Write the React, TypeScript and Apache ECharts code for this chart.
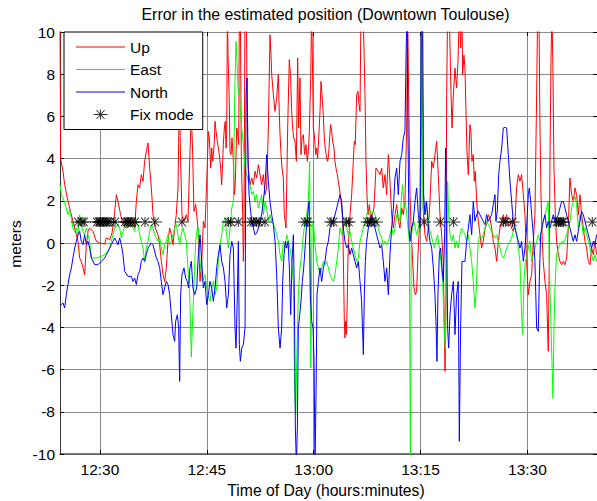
import React, { useEffect, useRef } from "react";
import * as echarts from "echarts";

// ---- Axis definitions (minutes after 12:00) ----
const xMin = 24.4;
const xMax = 99.76;
const xTickValues = [30, 45, 60, 75, 90];
const yMin = -10;
const yMax = 10;
const yInterval = 2;

const titleText = "Error in the estimated position (Downtown Toulouse)";
const xAxisName = "Time of Day (hours:minutes)";
const yAxisName = "meters";
const seriesNames = ["Up", "East", "North", "Fix mode"];

// ---- Series values: [minutes after 12:00, meters] ----
const upData: [number, number][] = [
  [24.4, 10.5], [24.49, 4.0], [24.82, 3.4], [25.06, 2.76], [25.43, 2.13], [25.76, 1.66], [25.99, 1.34], [26.22, 1.03],
  [26.46, 0.71], [26.69, 0.39], [26.93, 0.08], [27.16, -0.71], [27.39, -0.87], [27.63, -1.18], [27.86, -1.5], [28.1, -0.08],
  [28.33, 0.55], [28.56, 0.71], [29.03, 0.55], [29.5, 0.08], [29.97, 0], [30.67, -0.05], [30.9, 0.24], [31.37, 0.16],
  [31.7, 0.47], [31.98, 1.18], [32.31, 2.29], [32.54, 1.97], [32.91, 1.34], [33.24, 0.87], [33.71, 0.71], [34.18, 0.79],
  [34.64, 0.87], [34.88, 0.71], [35.11, 1.97], [35.35, 2.76], [35.58, 2.61], [35.81, 3.24], [36.05, 2.92], [36.28, 3.87],
  [36.51, 4.34], [36.75, 4.74], [36.98, 3.55], [37.22, 2.61], [37.45, 1.34], [37.78, 0.71], [38.15, 0.39], [38.39, -0.08],
  [38.62, -0.87], [38.85, -1.5], [39.09, -1.82], [39.32, -1.18], [39.55, 0.08], [39.79, 0.71], [40.02, 0.39], [40.26, -0.08],
  [40.49, 0.71], [40.72, 1.34], [40.96, 2.61], [41.15, 7.0], [41.33, 3.87], [41.52, 1.34], [41.8, 1.03], [42.13, 1.34],
  [42.36, 1.03], [42.6, 3.87], [42.83, 6.24], [43.02, 4.19], [43.2, 1.5], [43.44, 1.82], [43.67, 1.03], [43.82, 0.39],
  [44.05, -1.82], [44.29, -0.87], [44.52, 1.03], [44.75, 0.71], [44.99, 2.92], [45.22, 5.29], [45.36, 4.98], [45.55, 3.55],
  [45.69, 4.5], [45.83, 3.87], [45.92, 4.19], [46.06, 4.82], [46.15, 5.77], [46.3, 5.29], [46.48, 4.82], [46.62, 4.5],
  [46.76, 4.19], [46.95, 3.55], [47.09, 2.76], [47.23, 3.87], [47.32, 4.66], [47.46, 5.45], [47.6, 5.77], [47.7, 4.5],
  [47.79, 5.13], [47.89, 11], [47.98, 8.93], [48.07, 7.82], [48.17, 6.4], [48.26, 4.34], [48.4, 4.19], [48.54, 4.98],
  [48.73, 3.87], [48.87, 2.29], [49.01, 2.92], [49.2, 5.45], [49.34, 5.13], [49.48, 4.66], [49.57, 11], [49.71, 11],
  [49.85, 3.87], [50.04, 1.34], [50.13, -0.87], [50.22, 0.39], [50.36, 11], [50.55, 11], [50.69, 5.45], [50.83, 3.55],
  [51.07, 2.76], [51.3, 3.08], [51.53, 2.76], [51.77, 3.4], [52.0, 3.08], [52.24, 3.71], [52.47, 3.24], [52.7, 2.76],
  [52.94, 3.24], [53.17, 2.29], [53.4, 2.61], [53.64, 5.45], [53.87, 9.87], [54.01, 8.93], [54.11, 7.98], [54.34, 7.03],
  [54.57, 6.24], [54.81, 6.87], [55.04, 7.98], [55.18, 6.08], [55.28, 5.13], [55.42, 4.19], [55.56, 3.55], [55.74, 3.08],
  [55.88, 1.34], [56.12, 0.71], [56.35, 5.45], [56.58, 8.69], [56.77, 7.82], [56.91, 6.24], [57.05, 5.45], [57.19, 4.98],
  [57.38, 4.82], [57.57, 3.87], [57.75, 8.77], [57.89, 5.45], [58.08, 7.82], [58.22, 4.19], [58.36, 4.98], [58.55, 5.13],
  [58.73, 4.19], [58.92, 4.66], [59.11, 3.87], [59.25, 4.34], [59.39, 5.29], [59.58, 7.82], [59.72, 11], [59.86, 7.82],
  [59.95, 5.45], [60.09, 5.13], [60.28, 4.19], [60.42, 4.5], [60.56, 4.03], [60.7, 4.98], [60.89, 6.24], [61.03, 7.66],
  [61.17, 7.03], [61.35, 6.08], [61.49, 4.98], [61.63, 4.5], [61.82, 4.03], [61.96, 3.87], [62.1, 4.19], [62.24, 4.98],
  [62.38, 5.61], [62.52, 5.29], [62.66, 4.82], [62.85, 4.5], [62.99, 3.87], [63.13, 3.55], [63.32, 3.24], [63.46, 2.92],
  [63.6, 2.61], [63.79, 2.13], [63.93, 1.66], [64.07, 1.18], [64.2, -1.5], [64.3, -3.71], [64.39, -4.5], [64.48, -3.71],
  [64.58, -4.34], [64.68, -3.24], [64.8, -0.87], [64.95, 0.4], [65.1, 1.34], [65.33, 2.29], [65.56, 3.87], [65.7, 4.82],
  [65.84, 4.66], [66.03, 7.03], [66.22, 7.19], [66.36, 6.56], [66.5, 6.24], [66.64, 11], [66.92, 11], [67.06, 9.24],
  [67.2, 7.03], [67.34, 3.87], [67.48, 2.29], [67.62, 1.34], [67.81, 1.82], [68.0, 1.03], [68.23, 1.34], [68.46, 1.66],
  [68.74, 3.55], [69.03, 3.4], [69.31, 3.24], [69.54, 3.55], [69.77, 2.61], [70.01, 3.24], [70.24, 2.29], [70.48, 4.19],
  [70.71, 2.92], [70.94, 1.34], [71.18, 0.71], [71.41, 1.34], [71.65, 1.82], [71.88, 1.03], [72.11, 0.71], [72.35, 1.66],
  [72.58, 1.34], [72.81, 1.97], [73.05, 5.45], [73.19, 11], [73.33, 7.03], [73.52, 2.29], [73.7, 0.39], [73.89, -0.87],
  [74.08, -2.13], [74.26, -2.45], [74.45, -2.29], [74.64, -0.55], [74.83, 0.71], [75.01, 1.34], [75.2, 11], [75.39, 1.5],
  [75.62, 0.39], [75.85, 0.08], [76.09, 0.71], [76.32, 1.97], [76.56, 3.87], [76.79, 3.55], [77.02, 4.19], [77.26, 4.82],
  [77.49, 3.24], [77.72, 1.34], [77.96, 0.39], [78.19, -0.87], [78.43, -6.08], [78.57, -2.45], [78.66, 7.03], [78.8, 11],
  [79.03, 11], [79.22, 7.82], [79.41, 5.45], [79.6, 7.03], [79.83, 8.29], [80.06, 7.35], [80.25, 8.6], [80.44, 11],
  [80.62, 9.24], [80.81, 11], [80.9, 7.98], [81.09, 8.9], [81.23, 8.29], [81.37, 6.24], [81.51, 4.34], [81.7, 3.24],
  [81.93, 5.61], [82.07, 5.29], [82.21, 3.87], [82.4, 4.19], [82.54, 2.92], [82.68, 3.4], [82.87, 1.97], [83.1, 1.03],
  [83.34, 0.39], [83.57, -0.24], [83.8, 0.08], [84.04, 0.71], [84.27, 0.87], [84.51, 1.34], [84.74, 1.18], [84.97, 0.71],
  [85.21, 0.08], [85.44, -0.24], [85.68, -0.87], [85.91, 0.08], [86.14, 0.71], [86.38, 1.03], [86.61, 1.34], [86.84, 1.03],
  [87.08, 1.34], [87.31, 0.87], [87.55, 1.03], [87.78, 0.71], [88.01, 0.55], [88.25, 1.03], [88.48, 2.61], [88.72, 3.24],
  [88.95, 2.92], [89.18, 3.24], [89.42, 2.29], [89.65, 1.34], [89.88, -0.87], [90.12, -2.45], [90.35, -1.82], [90.59, -1.5],
  [90.82, 0.08], [91.05, 1.34], [91.29, 7.03], [91.43, 11], [91.61, 11], [91.76, 5.45], [91.9, 2.29], [92.08, 0.08],
  [92.22, -0.87], [92.46, -1.82], [92.69, -2.45], [92.92, -5.13], [93.06, -0.87], [93.16, 3.87], [93.3, 8.6], [93.44, 11],
  [93.58, 8.13], [93.72, 3.55], [93.91, 1.34], [94.09, 0.08], [94.33, -0.55], [94.56, -0.87], [94.8, -1.03], [95.03, -0.87],
  [95.26, -1.03], [95.5, -0.71], [95.73, 0.71], [95.96, 3.08], [96.2, 2.29], [96.43, 1.97], [96.67, 2.61], [96.9, 2.29],
  [97.13, 1.34], [97.37, 2.29], [97.6, 1.34], [97.84, 0.71], [98.07, 0.08], [98.3, -0.24], [98.54, -0.87], [98.77, -1.03],
  [99.0, -0.24], [99.24, -0.55], [99.47, 0.08], [99.71, -0.55],
];

const eastData: [number, number][] = [
  [24.4, 2.76], [24.59, 2.29], [24.82, 2.13], [25.06, 1.89], [25.29, 1.66], [25.52, 1.34], [25.76, 1.58], [25.99, 1.18],
  [26.22, 0.71], [26.46, 0.55], [26.69, 0.71], [26.93, 0.39], [27.16, 1.34], [27.39, 0.87], [27.63, 0.55], [27.86, 0.39],
  [28.1, 0.71], [28.33, 0.39], [28.56, 0.08], [28.8, -0.71], [29.5, -0.71], [30.2, -0.63], [30.67, -0.55], [31.14, -0.39],
  [31.37, -0.24], [31.6, 0.08], [31.84, 0.39], [32.07, 0.71], [32.54, 0.87], [32.77, 0.71], [33.01, 0.24], [33.24, 0.55],
  [33.47, 0.79], [33.94, 0.9], [34.41, 0.87], [34.88, 0.55], [35.11, 1.03], [35.35, 0.87], [35.58, 0.39], [35.81, 0.08],
  [36.05, -0.24], [36.28, -0.87], [36.51, -0.24], [36.75, 0.08], [36.98, 0.55], [37.22, 0.87], [37.45, 0.71], [37.68, 0.39],
  [37.92, 0.24], [38.15, 0.08], [38.39, 0.24], [38.62, -0.24], [38.85, -0.55], [39.09, -0.08], [39.32, 0.08], [39.55, 0.39],
  [39.79, -0.08], [40.02, 0.08], [40.26, 0.39], [40.49, 0.71], [40.72, 0.87], [40.96, 0.39], [41.19, -0.08], [41.42, 0.39],
  [41.66, 0.71], [41.89, 0.39], [42.13, 0.08], [42.36, -1.18], [42.6, -2.45], [42.83, -5.4], [42.97, -4.03], [43.2, -2.0],
  [43.44, 0.08], [43.67, 0.71], [43.82, 0.71], [44.05, -0.87], [44.38, -1.82], [44.75, -1.5], [45.13, -2.45], [45.45, -2.76],
  [45.69, -2.13], [45.92, -1.82], [46.16, -2.45], [46.39, -2.13], [46.62, -0.87], [46.86, -0.08], [47.09, 0.39], [47.33, 1.03],
  [47.56, 1.18], [47.79, 0.39], [48.03, -0.24], [48.26, 0.71], [48.5, 1.66], [48.73, 1.97], [48.92, 7.03], [49.1, 9.56],
  [49.24, 8.6], [49.43, 7.03], [49.57, 7.35], [49.71, 6.24], [49.9, 5.45], [50.13, 4.66], [50.37, 3.55], [50.6, 3.24],
  [50.83, 2.92], [51.07, 2.76], [51.3, 2.29], [51.54, 2.45], [51.77, 1.97], [52.0, 2.29], [52.24, 1.66], [52.47, 1.97],
  [52.7, 2.29], [52.94, 1.34], [53.17, 1.97], [53.41, 1.66], [53.64, 1.03], [53.87, 1.34], [54.11, 1.03], [54.34, 0.87],
  [54.58, 0.71], [54.81, 0.39], [55.04, 0.08], [55.28, -0.55], [55.51, -0.87], [55.74, 0.08], [55.98, -0.24], [56.21, 0.39],
  [56.45, 0.08], [56.68, -0.24], [56.91, -0.87], [57.15, -1.82], [57.33, -6.87], [57.48, -8.13], [57.62, -5.61], [57.85, -2.45],
  [58.08, -1.18], [58.32, -0.55], [58.55, 0.39], [58.79, 1.03], [59.02, 1.34], [59.25, 1.97], [59.44, 3.87], [59.58, -5.92],
  [59.77, 0.71], [59.95, 1.03], [60.19, -0.08], [60.42, -0.87], [60.66, -1.18], [60.89, -1.5], [61.12, -1.18], [61.36, -0.87],
  [61.59, -1.03], [61.82, -0.87], [62.06, -1.18], [62.29, -1.5], [62.52, -1.66], [62.76, -1.82], [62.99, -1.5], [63.23, -0.87],
  [63.46, -0.24], [63.69, 0.71], [63.93, 0.39], [64.16, 0.71], [64.39, 1.03], [64.63, 0.71], [64.86, 0.39], [65.1, 0.55],
  [65.33, 0.08], [65.56, -0.24], [65.8, -0.55], [66.03, -0.87], [66.27, -0.71], [66.5, 0.08], [66.73, 0.39], [66.97, 0.71],
  [67.2, 1.03], [67.43, 1.34], [67.67, 1.5], [67.9, 1.58], [68.14, 1.34], [68.37, 1.5], [68.6, 1.34], [68.84, 1.03],
  [69.07, 0.71], [69.31, 0.39], [69.54, 0.24], [69.77, -0.08], [70.01, 0.08], [70.24, -0.08], [70.48, 0.08], [70.71, 0.39],
  [70.94, 0.71], [71.18, 0.39], [71.41, 0.71], [71.65, 1.34], [71.88, 1.34], [72.11, 1.03], [72.35, 2.29], [72.49, 2.76],
  [72.68, 1.66], [72.86, 1.97], [73.05, 1.34], [73.24, 0.71], [73.43, 0.08], [73.57, -10.5], [73.7, 0.39], [73.89, 0.71],
  [74.08, 1.03], [74.26, 0.71], [74.45, 0.39], [74.69, 0.71], [74.92, 1.34], [75.15, 11], [75.34, 1.66], [75.53, 1.34],
  [75.76, 1.97], [76.0, 1.34], [76.23, 0.71], [76.46, 0.39], [76.7, 0.08], [76.93, -0.24], [77.16, 0.08], [77.4, 0.39],
  [77.63, -0.24], [77.87, -0.87], [78.1, -1.82], [78.33, -4.03], [78.47, -4.98], [78.66, -0.87], [78.8, 2.92], [78.94, 1.34],
  [79.13, 0.39], [79.36, 0.08], [79.6, 0.39], [79.83, -0.24], [80.06, 0.08], [80.29, -0.24], [80.53, 0.39], [80.76, 0.71],
  [80.99, 0.55], [81.23, 0.39], [81.47, 0.08], [81.7, 0.39], [81.93, -0.24], [82.17, -0.87], [82.4, -1.82], [82.63, -3.08],
  [82.78, -2.45], [82.96, -0.87], [83.1, 0.08], [83.34, 0.39], [83.57, 0.24], [83.8, 0.39], [84.04, 0.71], [84.27, 1.03],
  [84.51, 0.87], [84.74, 0.71], [84.97, 0.55], [85.21, 0.39], [85.44, 0.24], [85.68, 0.39], [85.91, 0.08], [86.14, -0.24],
  [86.38, -0.55], [86.61, -0.71], [86.84, -0.55], [87.08, -0.24], [87.31, -0.08], [87.55, 0.08], [87.78, 0.24], [88.01, 0.55],
  [88.25, 0.71], [88.48, 0.39], [88.72, -0.24], [88.95, -0.87], [89.18, -3.4], [89.32, -4.34], [89.51, -1.82], [89.7, -0.87],
  [89.88, -0.71], [90.12, -0.24], [90.35, 0.08], [90.59, -0.87], [90.82, -0.55], [91.05, -0.24], [91.29, 0.08], [91.52, 0.39],
  [91.76, 0.08], [91.99, 0.71], [92.22, 1.03], [92.46, 1.34], [92.69, 1.66], [92.92, 1.97], [93.06, -0.87], [93.25, -3.4],
  [93.44, -5.61], [93.58, -7.35], [93.72, -4.03], [93.86, -2.13], [94.09, -0.55], [94.33, -0.24], [94.56, -0.08], [94.8, 0.08],
  [95.03, 0.0], [95.26, 0.16], [95.5, 0.39], [95.73, 0.71], [95.96, 1.03], [96.2, 1.66], [96.43, 1.97], [96.67, 2.21],
  [96.9, 1.82], [97.13, 0.71], [97.37, 1.34], [97.6, 1.03], [97.84, 0.39], [98.07, 0.71], [98.3, 0.39], [98.54, 0.08],
  [98.77, -0.24], [99.0, -0.55], [99.24, -0.87], [99.47, -0.55], [99.71, -0.87],
];

const northData: [number, number][] = [
  [24.4, -2.92], [24.59, -2.92], [24.82, -2.84], [25.06, -3.08], [25.29, -2.45], [25.52, -1.97], [25.76, -1.5], [25.99, -1.18],
  [26.22, -0.71], [26.46, -0.24], [26.69, 0.08], [26.93, 0.39], [27.16, 0.55], [27.39, 0.08], [27.63, -0.08], [27.86, 0.39],
  [28.1, -0.08], [28.33, 0.08], [28.56, -0.24], [28.8, -0.71], [29.27, -1.03], [29.73, -1.03], [30.2, -0.87], [30.67, -0.71],
  [31.14, -0.39], [31.6, -0.08], [32.07, 0.24], [32.31, 0.08], [32.54, -0.08], [32.77, 0.24], [33.01, -0.08], [33.24, -0.55],
  [33.47, -1.34], [33.94, -1.58], [34.41, -1.58], [34.64, -1.82], [34.88, -1.66], [35.11, -1.97], [35.35, -1.5], [35.58, -1.34],
  [35.81, -0.87], [36.05, -0.71], [36.28, -0.87], [36.51, -0.55], [36.75, -0.24], [37.22, 0], [37.45, -0.08], [37.68, -0.39],
  [37.92, -0.71], [38.15, -0.87], [38.39, -1.18], [38.62, -1.82], [38.85, -2.45], [39.09, -2.13], [39.32, -1.82], [39.55, -1.97],
  [39.79, -2.45], [40.02, -3.4], [40.26, -4.34], [40.49, -4.66], [40.63, -3.71], [40.87, -3.4], [41.05, -4.03], [41.19, -6.56],
  [41.33, -2.45], [41.52, -1.5], [41.8, -1.18], [42.03, -1.66], [42.27, -1.82], [42.45, -2.13], [42.64, -1.18], [42.83, -0.87],
  [43.06, -2.13], [43.3, -2.45], [43.58, -2.13], [43.82, -0.55], [44.05, 0.39], [44.29, -0.87], [44.52, -2.13], [44.75, -1.82],
  [44.99, -2.92], [45.22, -2.45], [45.45, -1.82], [45.69, -2.13], [45.92, -2.76], [46.16, -2.13], [46.39, -1.18], [46.62, -0.55],
  [46.86, -0.08], [47.09, -0.87], [47.33, -1.18], [47.56, -1.82], [47.79, -3.08], [48.03, -2.45], [48.26, -0.55], [48.5, 0.08],
  [48.73, -0.24], [48.96, -4.03], [49.1, -4.98], [49.29, -2.45], [49.43, 0.08], [49.57, -4.82], [49.71, -5.61], [49.9, -4.98],
  [50.13, -4.82], [50.37, -4.03], [50.51, 7.03], [50.65, 7.82], [50.79, 3.87], [50.93, 2.29], [51.11, 1.66], [51.3, 1.03],
  [51.54, 0.71], [51.77, 0.39], [52.0, 0.47], [52.24, 0.71], [52.47, 1.03], [52.7, 1.34], [52.94, 1.97], [53.17, 2.76],
  [53.41, 4.19], [53.64, 2.92], [53.87, 1.97], [54.11, 1.34], [54.34, 0.87], [54.58, 0.08], [54.81, -1.5], [55.04, -4.03],
  [55.28, -4.98], [55.51, -4.03], [55.65, -1.82], [55.84, -0.55], [56.02, 0.08], [56.21, -0.24], [56.4, 0.08], [56.59, -1.18],
  [56.77, -3.4], [56.96, -0.87], [57.15, 0.39], [57.29, -2.45], [57.43, -8.77], [57.57, -10.5], [57.71, -8.77], [57.85, -4.03],
  [58.04, -3.4], [58.22, -2.76], [58.41, -1.82], [58.6, -1.18], [58.79, -0.24], [58.97, 0.71], [59.16, 1.34], [59.35, 1.97],
  [59.53, -2.45], [59.72, -3.71], [59.91, -4.03], [60.05, -5.61], [60.19, -10.5], [60.33, -7.19], [60.47, -2.45], [60.66, -1.82],
  [60.89, -1.18], [61.12, -1.82], [61.36, -1.18], [61.59, -0.87], [61.82, -0.24], [62.06, 0.08], [62.29, 0.71], [62.76, 1.03],
  [63.23, 1.66], [63.69, 2.29], [63.93, 1.97], [64.16, 0.71], [64.39, 0.08], [64.63, -0.24], [64.86, -0.08], [65.1, -0.55],
  [65.33, -0.24], [65.56, -0.55], [65.8, -0.87], [66.03, -1.18], [66.27, -0.87], [66.5, -1.82], [66.73, -2.76], [66.97, -5.29],
  [67.11, -2.45], [67.25, -0.87], [67.43, 0.08], [67.67, 0.71], [67.9, 1.03], [68.14, 1.34], [68.37, 1.03], [68.6, 0.71],
  [68.84, 0.39], [69.07, 0.08], [69.31, -0.24], [69.54, -0.08], [69.77, -0.87], [70.01, -1.82], [70.24, -1.18], [70.48, -2.45],
  [70.71, -0.55], [70.94, 0.71], [71.18, 1.66], [71.41, 3.08], [71.65, 3.55], [71.88, 2.29], [72.11, 3.87], [72.35, 4.19],
  [72.58, 4.98], [72.81, 5.29], [72.95, 8.6], [73.09, 11], [73.23, 5.45], [73.37, 0.71], [73.52, 0.08], [73.75, 0.71],
  [73.98, 1.03], [74.22, 1.97], [74.45, 2.61], [74.69, 1.34], [74.92, 0.71], [75.11, 11], [75.29, 11], [75.43, 2.29],
  [75.62, 1.34], [75.85, 1.97], [76.09, 0.71], [76.32, 0.08], [76.56, -0.24], [76.79, -1.18], [77.02, -2.45], [77.16, -3.71],
  [77.3, -5.61], [77.44, -2.45], [77.63, -0.55], [77.82, -0.24], [78.0, -1.18], [78.19, -1.82], [78.38, 0.39], [78.52, 4.5],
  [78.66, 0.71], [78.8, -4.03], [78.94, -4.98], [79.13, -3.4], [79.36, -2.45], [79.6, -1.82], [79.83, -4.34], [80.06, -2.45],
  [80.29, -1.82], [80.44, -9.4], [80.62, -4.03], [80.81, -0.87], [81.23, -0.87], [81.47, 0.08], [81.7, 0.71], [81.93, 1.34],
  [82.17, 0.39], [82.4, 1.97], [82.63, 1.03], [82.87, 1.34], [83.1, 1.5], [83.34, 1.34], [83.57, 1.18], [83.8, 1.03],
  [84.04, 0.87], [84.27, 1.34], [84.51, 1.03], [84.74, 1.18], [84.97, 1.34], [85.21, 1.82], [85.44, 2.29], [85.58, 1.03],
  [85.77, 1.5], [85.96, 3.24], [86.14, 3.87], [86.38, 4.5], [86.61, 5.45], [86.84, 5.48], [87.08, 5.45], [87.31, 4.19],
  [87.55, 2.92], [87.78, 1.97], [88.01, 1.03], [88.25, 0.71], [88.48, 0.39], [88.72, 0.08], [88.95, -0.24], [89.18, 0.08],
  [89.42, -0.87], [89.65, -0.24], [89.88, 0.71], [90.12, 2.29], [90.26, 2.61], [90.45, 1.97], [90.59, 1.34], [90.82, 0.39],
  [91.05, -0.87], [91.29, -4.03], [91.52, -4.19], [91.66, -1.82], [91.85, 0.39], [92.04, 0.71], [92.22, 1.03], [92.46, 1.34],
  [92.69, 0.71], [92.92, 1.03], [93.16, 0.71], [93.39, 1.03], [93.63, 1.34], [93.86, 1.03], [94.09, 1.18], [94.33, 1.34],
  [94.56, 1.66], [94.8, 1.97], [95.03, 1.97], [95.26, 1.66], [95.5, 1.34], [95.73, 1.03], [95.96, 0.71], [96.2, 0.39],
  [96.43, 0.08], [96.67, 0.39], [96.9, 0.08], [97.13, 0.55], [97.37, 1.03], [97.6, 1.5], [97.84, 1.34], [98.07, 1.03],
  [98.3, 0.71], [98.54, 0.39], [98.77, 0.08], [99.0, -0.24], [99.24, 0.08], [99.47, -0.08], [99.71, 0.39],
];

const fixModeTimes = [
  26.93, 27.49, 27.77, 29.59, 29.87, 30.01, 30.15, 30.43, 30.57, 30.86, 31.14, 31.42, 32.12, 33.52, 33.8, 33.94,
  34.22, 34.5, 34.92, 36.33, 37.73, 41.52, 48.03, 48.35, 49.43, 51.21, 51.54, 52.0, 52.33, 53.17, 58.79, 59.16,
  62.43, 62.76, 64.63, 64.91, 67.55, 67.9, 68.14, 68.74, 75.5, 77.75, 79.62, 86.63, 86.9, 87.9, 94.1, 94.35,
  94.6, 94.85, 95.05, 99.1,
];
const fixModeLevel = 1;

const FONT = "'Liberation Sans', Arial, Helvetica, sans-serif";
const STAR_SYMBOL =
  "path://M0,4.5H14V5.5H0Z M6.5,0H7.5V10H6.5Z M2.6,1L3.4,0.4L11.4,9L10.6,9.6Z M10.6,0.4L11.4,1L3.4,9.6L2.6,9Z";
const STAR_LEGEND_ICON =
  "path://M0,0h0.01v0.01h-0.01z M48.99,13.99h0.01v0.01h-0.01z M17.5,6.5H31.5V7.5H17.5Z M24,2H25V12H24Z M20.1,3L20.9,2.4L28.9,11L28.1,11.6Z M28.1,2.4L28.9,3L20.9,11.6L20.1,11Z";
const LINE_LEGEND_ICON = "path://M0,6.5H49V7.5H0Z";

function fmtTime(v: number): string {
  const h = 12 + Math.floor(v / 60);
  const m = Math.round(v % 60);
  return `${h}:${m < 10 ? "0" + m : m}`;
}

export default function App() {
  const ref = useRef<HTMLDivElement>(null);
  useEffect(() => {
    if (!ref.current) return;
    const chart = echarts.init(ref.current, undefined, { renderer: "svg" });
    const gridColor = "#8a8a8a";
    const option: any = {
      animation: false,
      backgroundColor: "#ffffff",
      textStyle: { fontFamily: FONT },
      grid: { left: 60, top: 32, width: 537, height: 422, containLabel: false },
      legend: {
        orient: "vertical",
        left: 64,
        top: 32,
        padding: [7, 9, 7, 12],
        itemGap: 6.5,
        itemWidth: 49,
        itemHeight: 14,
        backgroundColor: "#ffffff",
        borderColor: "#000000",
        borderWidth: 1,
        borderRadius: 0,
        selectedMode: false,
        itemStyle: { borderWidth: 0 },
        textStyle: { fontSize: 15.5, color: "#000", fontFamily: FONT },
        data: [
          { name: seriesNames[0], icon: LINE_LEGEND_ICON },
          { name: seriesNames[1], icon: LINE_LEGEND_ICON },
          { name: seriesNames[2], icon: LINE_LEGEND_ICON },
          { name: seriesNames[3], icon: STAR_LEGEND_ICON },
        ],
        z: 10,
      },
      xAxis: [
        {
          type: "value",
          min: xMin,
          max: xMax,
          position: "bottom",
          axisLine: { show: true, onZero: false, lineStyle: { color: "#555", width: 1.5 } },
          axisTick: { show: true, inside: true, length: 4, customValues: xTickValues, lineStyle: { color: "#000" } },
          axisLabel: {
            customValues: xTickValues,
            formatter: (v: number) => fmtTime(v),
            margin: 7,
            fontSize: 15.5,
            color: "#000",
            fontFamily: FONT,
          },
          splitLine: { show: true, lineStyle: { color: gridColor, width: 1 } },
        },
        {
          type: "value",
          min: xMin,
          max: xMax,
          position: "top",
          axisLine: { show: false, onZero: false },
          axisTick: { show: true, inside: true, length: 4, customValues: xTickValues, lineStyle: { color: "#000" } },
          axisLabel: { show: false },
          splitLine: { show: false },
        },
      ],
      yAxis: [
        {
          type: "value",
          min: yMin,
          max: yMax,
          interval: yInterval,
          axisLine: { show: true, onZero: false, lineStyle: { color: "#333", width: 1 } },
          axisTick: { show: true, inside: true, length: 4, lineStyle: { color: "#000" } },
          axisLabel: { margin: 5, fontSize: 15.5, color: "#000", fontFamily: FONT },
          splitLine: { show: true, lineStyle: { color: gridColor, width: 1 } },
        },
        {
          type: "value",
          min: yMin,
          max: yMax,
          interval: yInterval,
          position: "right",
          axisLine: { show: false, onZero: false },
          axisTick: { show: true, inside: true, length: 4, lineStyle: { color: "#000" } },
          axisLabel: { show: false },
          splitLine: { show: false },
        },
      ],
      series: [
        {
          name: seriesNames[0],
          type: "line",
          data: upData,
          showSymbol: false,
          symbol: "none",
          color: "#ff0000",
          lineStyle: { color: "#ff0000", width: 1 },
          silent: true,
          clip: true,
        },
        {
          name: seriesNames[1],
          type: "line",
          data: eastData,
          showSymbol: false,
          symbol: "none",
          color: "#00ff00",
          lineStyle: { color: "#00ff00", width: 1 },
          silent: true,
          clip: true,
        },
        {
          name: seriesNames[2],
          type: "line",
          data: northData,
          showSymbol: false,
          symbol: "none",
          color: "#0000ff",
          lineStyle: { color: "#0000ff", width: 1 },
          silent: true,
          clip: true,
        },
        {
          name: seriesNames[3],
          type: "scatter",
          data: fixModeTimes.map((t) => [t, fixModeLevel]),
          symbol: STAR_SYMBOL,
          symbolSize: [14, 10],
          color: "#000000",
          itemStyle: { color: "#000000" },
          silent: true,
          z: 5,
        },
      ],
      graphic: [
        {
          type: "text",
          x: 325.5,
          y: 14.8,
          z: 20,
          style: {
            text: titleText,
            fontSize: 15.9,
            fontFamily: FONT,
            fill: "#000",
            align: "center",
            verticalAlign: "middle",
            textAlign: "center",
            textVerticalAlign: "middle",
          },
        },
        {
          type: "text",
          x: 326,
          y: 490,
          z: 20,
          style: {
            text: xAxisName,
            fontSize: 15.7,
            fontFamily: FONT,
            fill: "#000",
            align: "center",
            verticalAlign: "middle",
            textAlign: "center",
            textVerticalAlign: "middle",
          },
        },
        {
          type: "text",
          x: 15.5,
          y: 244,
          rotation: Math.PI / 2,
          z: 20,
          style: {
            text: yAxisName,
            fontSize: 15.5,
            fontFamily: FONT,
            fill: "#000",
            align: "center",
            verticalAlign: "middle",
            textAlign: "center",
            textVerticalAlign: "middle",
          },
        },
      ],
    };
    chart.setOption(option);
    return () => {
      chart.dispose();
    };
  }, []);
  return (
    <div
      ref={ref}
      style={{ position: "fixed", left: 0, top: 0, width: 597, height: 501, background: "#fff" }}
    />
  );
}
